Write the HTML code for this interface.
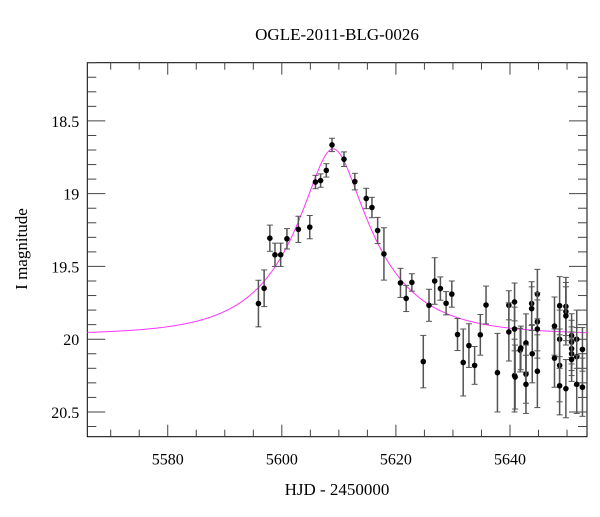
<!DOCTYPE html>
<html><head><meta charset="utf-8"><style>
body{margin:0;background:#fff}
svg text{font-family:"Liberation Serif",serif;fill:#000}
</style></head><body>
<svg id="c" width="600" height="512" xmlns="http://www.w3.org/2000/svg">
<text x="337" y="40" text-anchor="middle" font-size="17">OGLE-2011-BLG-0026</text>
<text x="337" y="495" text-anchor="middle" font-size="17">HJD - 2450000</text>
<text transform="translate(27,249) rotate(-90)" text-anchor="middle" font-size="17">I magnitude</text>
<g id="plot"></g>
</svg>
<script>
const hjd=[5595.9,5596.9,5597.9,5598.8,5599.8,5600.9,5602.9,5604.9,5605.9,5606.8,5607.8,5608.8,5610.9,5612.8,5614.8,5615.8,5616.8,5617.9,5620.8,5621.8,5622.8,5624.8,5625.8,5626.8,5627.8,5628.8,5629.8,5630.8,5631.8,5632.8,5633.8,5634.8,5635.8,5637.8,5639.8,5639.8,5640.8,5640.8,5640.8,5640.9,5641.8,5641.9,5642.8,5642.8,5642.8,5643.8,5643.8,5643.9,5644.8,5644.8,5644.8,5644.8,5647.8,5647.8,5648.7,5648.7,5648.7,5648.7,5649.8,5649.8,5649.8,5649.8,5650.8,5650.8,5650.8,5650.8,5650.8,5651.7,5651.7,5651.7,5652.7,5652.7];
const mag=[19.755,19.65,19.306,19.42,19.42,19.31,19.245,19.23,18.92,18.91,18.84,18.665,18.763,18.917,19.033,19.095,19.253,19.414,19.613,19.72,19.61,20.154,19.767,19.60,19.652,19.753,19.69,19.968,20.16,20.044,20.18,19.97,19.765,20.23,19.767,19.95,19.744,19.93,20.25,20.26,20.075,20.06,20.026,20.24,20.31,19.755,19.79,20.1,19.69,19.88,19.93,20.22,19.91,20.13,19.77,20.0,20.18,20.32,19.775,19.81,19.84,20.34,19.975,20.02,20.065,20.10,20.14,20.0,20.12,20.31,20.07,20.33];
const err=[0.16,0.126,0.09,0.08,0.08,0.07,0.09,0.08,0.046,0.046,0.046,0.046,0.05,0.057,0.07,0.07,0.09,0.18,0.10,0.09,0.06,0.18,0.11,0.16,0.08,0.08,0.09,0.11,0.23,0.15,0.13,0.14,0.13,0.27,0.10,0.2,0.13,0.15,0.25,0.22,0.15,0.15,0.2,0.2,0.2,0.15,0.15,0.2,0.17,0.2,0.2,0.25,0.2,0.2,0.2,0.2,0.25,0.2,0.2,0.2,0.2,0.2,0.15,0.15,0.15,0.15,0.15,0.2,0.2,0.2,0.15,0.2];
const xTicks=[5580,5600,5620,5640];
const yTicks=[18.5,19,19.5,20,20.5];
const yTickLabels=["18.5","19","19.5","20","20.5"];
const model={t0:5609.0,tE:14,u0:0.32,base:19.97};
const X0=87.3,X1=587,Y0=62.7,Y1=436.7,xmin=5565.9,xmax=5653.5,ymin=18.10,ymax=20.67;
const sx=v=>X0+(v-xmin)/(xmax-xmin)*(X1-X0);
const sy=v=>Y0+(v-ymin)/(ymax-ymin)*(Y1-Y0);
const NS="http://www.w3.org/2000/svg",g=document.getElementById('plot');
function mk(t,a){const e=document.createElementNS(NS,t);for(const k in a)e.setAttribute(k,a[k]);g.appendChild(e);return e;}
// frame
const fr=mk('rect',{x:X0,y:Y0,width:X1-X0,height:Y1-Y0,fill:'none',stroke:'#000','stroke-width':1});


for(let v=5570;v<=5650;v+=5){const maj=v%20==0,L=maj?12:7;
 mk('line',{x1:sx(v),x2:sx(v),y1:Y1,y2:Y1-L,stroke:'#444'});
 mk('line',{x1:sx(v),x2:sx(v),y1:Y0,y2:Y0+L,stroke:'#444'});}
for(let i=19;i<=206;i++){const v=i/10;if(v<ymin||v>ymax)continue;const maj=i%5==0,L=maj?18:9;
 mk('line',{x1:X0,x2:X0+L,y1:sy(v),y2:sy(v),stroke:'#444'});
 mk('line',{x1:X1,x2:X1-L,y1:sy(v),y2:sy(v),stroke:'#444'});}
xTicks.forEach(v=>{const t=mk('text',{x:sx(v),y:Y1+28,'text-anchor':'middle','font-size':16});t.textContent=v;
 
 });
yTicks.forEach((v,i)=>{const t=mk('text',{x:X0-8,y:sy(v)+6,'text-anchor':'end','font-size':16});t.textContent=yTickLabels[i];
 
 });
// model
let d='';for(let t=xmin;t<=xmax;t+=0.2){const tau=(t-model.t0)/model.tE,u=Math.sqrt(tau*tau+model.u0*model.u0);
 const A=(u*u+2)/(u*Math.sqrt(u*u+4));const m=model.base-2.5*Math.log10(A);d+=(d?'L':'M')+sx(t).toFixed(1)+','+sy(m).toFixed(1);}
const mp=mk('path',{d:d,fill:'none',stroke:'#ff33ff','stroke-width':1});


// data
hjd.forEach((t,i)=>{const x=sx(t);
 const a=sy(mag[i]-err[i]),b=sy(mag[i]+err[i]);
 mk('line',{x1:x,x2:x,y1:a,y2:b,stroke:'#555','stroke-width':1.5});
 mk('line',{x1:x-3,x2:x+3,y1:a,y2:a,stroke:'#555'});
 mk('line',{x1:x-3,x2:x+3,y1:b,y2:b,stroke:'#555'});
 const c=mk('circle',{cx:x,cy:sy(mag[i]),r:2.8,fill:'#000'});
 
 });
</script>
</body></html>
